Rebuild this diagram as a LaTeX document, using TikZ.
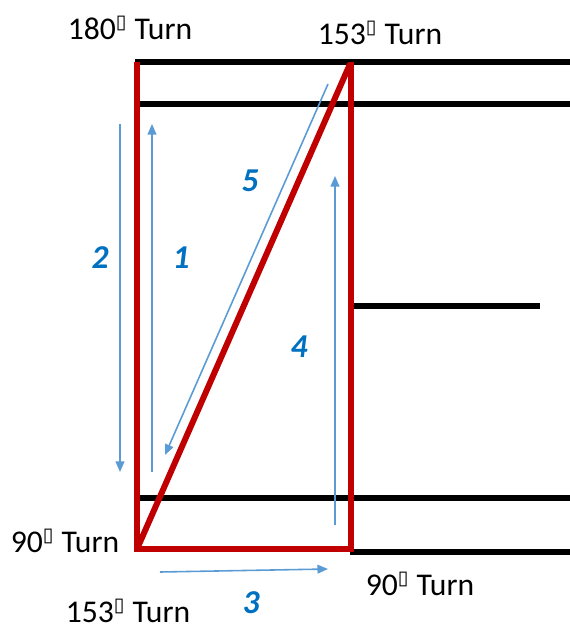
\documentclass[tikz,border=0pt]{standalone}
\usepackage{fontspec}
\setmainfont{Carlito}
\newfontfamily\boxfont{DejaVu Sans}
\usetikzlibrary{arrows.meta}

\definecolor{pathred}{HTML}{C00000}
\definecolor{moveblue}{HTML}{5B9BD5}
\definecolor{numblue}{HTML}{0070C0}

% turn label: number, box glyph, "Turn"
\newcommand{\turnlabel}[1]{#1\textsuperscript{\boxfont\fontsize{11}{11}\selectfont ▯} Turn}

\tikzset{
  wall/.style={line width=3pt, black},
  route/.style={line width=3.4pt, pathred, line join=miter},
  move/.style={line width=0.9pt, moveblue, -{Triangle[length=6pt, width=5pt]}},
  turntext/.style={font=\fontsize{18}{20}\selectfont, inner sep=0pt},
  stepnum/.style={font=\fontsize{19}{22}\selectfont\bfseries\itshape, text=numblue, inner sep=0pt}
}

\begin{document}
\begin{tikzpicture}[x=0.02cm, y=-0.02cm]

  \useasboundingbox (0, 0) rectangle (570, 630);

  % ───────── Walls ─────────
  \draw[wall] (135, 62) -- (570, 62);
  \draw[wall] (135, 104) -- (570, 104);
  \draw[wall] (352, 306) -- (540, 306);
  \draw[wall] (135, 498) -- (570, 498);
  \draw[wall] (350, 552) -- (570, 552);

  % ───────── Route (red) ─────────
  \draw[route] (137, 62) -- (137, 549) -- (351, 549) -- (351, 62);
  \draw[route] (137, 549) -- (350, 64);

  % ───────── Movements (blue) ─────────
  \draw[move] (120, 124) -- (120, 472);   % 2
  \draw[move] (152, 472) -- (152, 124);   % 1
  \draw[move] (328, 84) -- (165, 455);    % 5
  \draw[move] (335, 525) -- (335, 176);   % 4
  \draw[move] (160, 572) -- (328, 569);   % 3

  % ───────── Step numbers ─────────
  \node[stepnum] (n2) at (100, 258) {2};
  \node[stepnum] (n1) at (181, 258) {1};
  \node[stepnum] (n5) at (250, 181) {5};
  \node[stepnum] (n4) at (299, 347) {4};
  \node[stepnum] (n3) at (251, 603) {3};

  % ───────── Turn labels ─────────
  \node[turntext] (t180) at (130, 28) {\turnlabel{180}};
  \node[turntext] (t153a) at (380, 33) {\turnlabel{153}};
  \node[turntext] (t90a) at (65, 541) {\turnlabel{90}};
  \node[turntext] (t153b) at (128, 611) {\turnlabel{153}};
  \node[turntext] (t90b) at (420, 584) {\turnlabel{90}};

\end{tikzpicture}
\end{document}
